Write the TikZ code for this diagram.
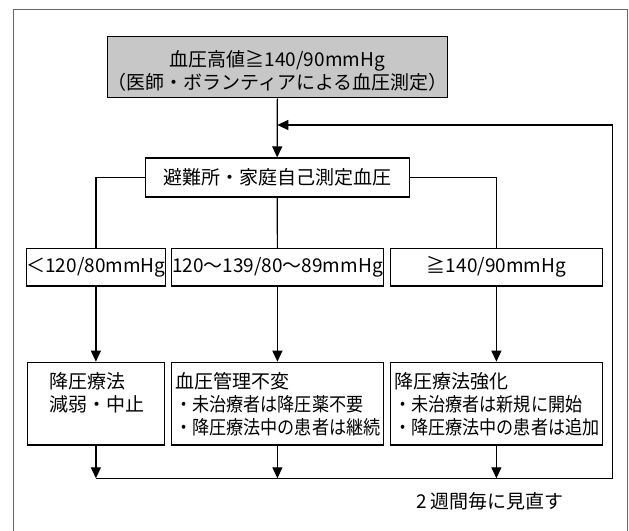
\documentclass[tikz,border=0pt]{standalone}
\usepackage{fontspec}
\usepackage{graphicx}
\setmainfont{Noto Sans CJK JP}
\usetikzlibrary{arrows.meta}
\begin{document}
\begin{tikzpicture}[x=1pt,y=-1pt,
  box/.style={draw=black, line width=1.2pt, inner sep=0pt},
  txt/.style={inner sep=0pt, font=\fontsize{19}{23}\selectfont},
  ln/.style={line width=1.2pt},
  arr/.style={line width=1.2pt, -{Triangle[length=11pt,width=10pt]}},
  frame/.style={draw=black!60, line width=1.6pt}]
\useasboundingbox (0,0) rectangle (629,530);
\draw[frame] (13.3,540) -- (13.3,9.5) -- (627.5,9.5) -- (627.5,540);
% top box
\node[box, fill=black!22, minimum width=339.7pt, minimum height=61pt] (top) at (277.35,67.2) {};
\node[txt, align=center] (topT) at (277.35,71) {血圧高値≧140/90mmHg\\（医師・ボランティアによる血圧測定）};
% middle box
\node[box, txt, minimum width=264pt, minimum height=39pt] (mid) at (277.2,177.5) {避難所・家庭自己測定血圧};
% row 3
\node[box, txt, minimum width=137.2pt, minimum height=37.7pt] (a1) at (95.9,267.2) {＜120/80mmHg};
\node[box, txt, minimum width=211.4pt, minimum height=37.7pt] (b1) at (277.4,267.2) {120～139/80～89mmHg};
\node[box, txt, minimum width=212.2pt, minimum height=37.7pt] (c1) at (496.4,267.2) {≧140/90mmHg};
% row 4
\node[box, minimum width=137.2pt, minimum height=82.7pt] (a2) at (95.9,403.6) {};
\node[box, minimum width=211.4pt, minimum height=82.7pt] (b2) at (277.4,403.6) {};
\node[box, minimum width=212.2pt, minimum height=82.7pt] (c2) at (496.4,403.6) {};
\node[txt, align=left, anchor=north west] (a2T) at (49,372) {降圧療法\\減弱・中止};
\node[txt, align=left, anchor=north west] (b2T) at (175,372) {血圧管理不変\\\scalebox{0.9}[1]{・未治療者は降圧薬不要}\\\scalebox{0.9}[1]{・降圧療法中の患者は継続}};
\node[txt, align=left, anchor=north west] (c2T) at (394,372) {降圧療法強化\\\scalebox{0.9}[1]{・未治療者は新規に開始}\\\scalebox{0.9}[1]{・降圧療法中の患者は追加}};
% label
\node[txt] (lbl) at (490,501.7) {2\,週間毎に見直す};
% connectors
\coordinate (br) at (612.5,478.3);
\coordinate (fb) at (612.5,125);
\draw[arr] (top.south) -- (mid.north);
\draw[ln] (mid.south) -- (b1.north);
\draw[ln] (mid.west) -| (a1.north);
\draw[ln] (mid.east) -| (c1.north);
\draw[arr] (a1.south) -- (a2.north);
\draw[arr] (b1.south) -- (b2.north);
\draw[arr] (c1.south) -- (c2.north);
\draw[arr] (a2.south) -- (a2.south |- br);
\draw[arr] (b2.south) -- (b2.south |- br);
\draw[arr] (c2.south) -- (c2.south |- br);
\draw[ln] (a2.south |- br) -- (br);
\draw[arr] (br) -- (fb) -- (top.south |- fb);
\end{tikzpicture}
\end{document}
